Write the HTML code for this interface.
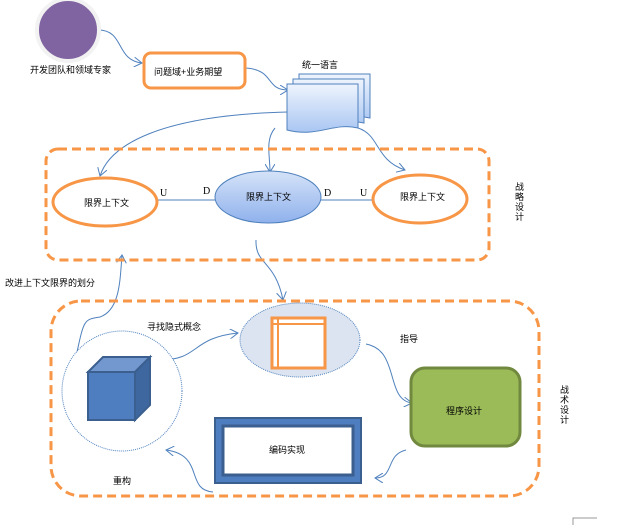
<!DOCTYPE html>
<html><head><meta charset="utf-8"><style>
body{margin:0;background:#fff;width:639px;height:525px;overflow:hidden;font-family:"Liberation Sans","Noto Sans CJK SC",sans-serif;}
</style></head><body>
<svg width="639" height="525" viewBox="0 0 639 525" xmlns="http://www.w3.org/2000/svg" font-family="Liberation Sans, Noto Sans CJK SC, sans-serif">
<defs>
<linearGradient id="doc" x1="0" y1="0" x2="0" y2="1"><stop offset="0" stop-color="#eef4fd"/><stop offset="1" stop-color="#a9c6f2"/></linearGradient>
<linearGradient id="ell" x1="0" y1="0" x2="0" y2="1"><stop offset="0" stop-color="#d5e3f8"/><stop offset="1" stop-color="#8fb1ec"/></linearGradient>
<marker id="ar" markerWidth="10" markerHeight="10" refX="8" refY="5" orient="auto" markerUnits="userSpaceOnUse"><path d="M0,0 L8,5 L0,10" fill="none" stroke="#4f81bd" stroke-width="1"/></marker>
</defs>
<g fill="none" stroke="#4f81bd" stroke-width="1" marker-end="url(#ar)">
<path d="M98,30 C125,30 115,60 142,63"/>
<path d="M246,68 C275,70 265,90 288,90"/>
<path d="M288,112 C160,115 110,145 100,176"/>
<path d="M275,128 C265,140 270,155 270,172"/>
<path d="M358,128 C380,135 375,160 405,170"/>
<path d="M256,240 C255,265 275,260 283,300"/>
<path d="M70,383 C85,320 80,320 100,317 C120,310 120,280 122,255"/>
<path d="M160,360 C200,360 190,338 238,333"/>
<path d="M366,344 C400,350 385,400 412,403"/>
<path d="M406,450 C385,455 395,478 375,478"/>
<path d="M213,492 C185,490 205,455 166,450"/>
</g>
<circle cx="68" cy="30" r="31" fill="#8064a2" stroke="#f2f2f2" stroke-width="4"/>
<text x="30" y="73" font-size="9">开发团队和领域专家</text>
<rect x="144" y="53" width="101" height="35" rx="7" fill="#fff" stroke="#f79646" stroke-width="3"/>
<text x="154" y="75" font-size="9">问题域+业务期望</text>
<text x="302" y="68" font-size="9">统一语言</text>
<g stroke="#4f81bd" stroke-width="1" fill="url(#doc)">
<path d="M299,74 H370 V118 C345,112 330,128 299,120Z"/>
<path d="M293,79 H364 V123 C339,117 324,133 293,125Z"/>
<path d="M287,84 H358 V128 C333,122 318,138 287,130Z"/>
</g>
<rect x="46" y="149" width="443" height="111" rx="12" fill="none" stroke="#f79646" stroke-width="3" stroke-dasharray="9,5"/>
<line x1="158" y1="200" x2="217" y2="200" stroke="#4f81bd"/>
<line x1="320" y1="200" x2="373" y2="200" stroke="#4f81bd"/>
<g font-family="Liberation Serif, serif" font-size="10"><text x="160" y="196">U</text><text x="203" y="194">D</text><text x="324" y="196">D</text><text x="360" y="196">U</text></g>
<ellipse cx="105" cy="202" rx="52" ry="24" fill="#fff" stroke="#f79646" stroke-width="3"/>
<text x="84" y="206" font-size="9">限界上下文</text>
<ellipse cx="268" cy="197" rx="53" ry="26" fill="url(#ell)" stroke="#4f81bd"/>
<text x="246" y="200" font-size="9">限界上下文</text>
<ellipse cx="420" cy="199" rx="47" ry="24" fill="#fff" stroke="#f79646" stroke-width="3"/>
<text x="400" y="200" font-size="9">限界上下文</text>
<text font-size="9"><tspan x="515" y="190">战</tspan><tspan x="515" y="200">略</tspan><tspan x="515" y="210">设</tspan><tspan x="515" y="220">计</tspan></text>
<text x="5" y="286" font-size="9">改进上下文限界的划分</text>
<rect x="51" y="301" width="488" height="195" rx="30" fill="none" stroke="#f79646" stroke-width="3" stroke-dasharray="9,5"/>
<ellipse cx="300" cy="340" rx="60" ry="37" fill="#dbe4f0" stroke="#4f81bd" stroke-dasharray="1,1"/>
<rect x="272" y="318" width="53" height="50" fill="#fff" stroke="#f79646" stroke-width="3"/>
<line x1="272" y1="324" x2="325" y2="324" stroke="#f79646" stroke-width="2"/>
<line x1="278" y1="318" x2="278" y2="368" stroke="#f79646" stroke-width="2"/>
<circle cx="122" cy="391" r="60" fill="#fff" stroke="#4f81bd" stroke-dasharray="1,1"/>
<path d="M88,372 L103,357 L150,357 L135,372Z" fill="#7398cf" stroke="#3b5f8f" stroke-width="2"/>
<path d="M135,372 L150,357 L150,405 L135,420Z" fill="#3e67a0" stroke="#3b5f8f" stroke-width="2"/>
<rect x="88" y="372" width="47" height="48" fill="#4f7ec0" stroke="#3b5f8f" stroke-width="2"/>
<text x="147" y="330" font-size="9">寻找隐式概念</text>
<text x="400" y="342" font-size="9">指导</text>
<text x="113" y="484" font-size="9">重构</text>
<rect x="411" y="368" width="109" height="78" rx="14" fill="#9bbb59" stroke="#71893f" stroke-width="3"/>
<text x="446" y="414" font-size="9">程序设计</text>
<rect x="215" y="418" width="146" height="65" fill="#4f7ec0" stroke="#3b5f8f" stroke-width="2"/>
<rect x="223" y="426" width="130" height="49" fill="#fff" stroke="#3b5f8f" stroke-width="3"/>
<text x="269" y="453" font-size="9">编码实现</text>
<text font-size="9"><tspan x="560" y="393">战</tspan><tspan x="560" y="403">术</tspan><tspan x="560" y="413">设</tspan><tspan x="560" y="423">计</tspan></text>
<path d="M573,525 V518 H597" fill="none" stroke="#999"/>
</svg>
</body></html>
